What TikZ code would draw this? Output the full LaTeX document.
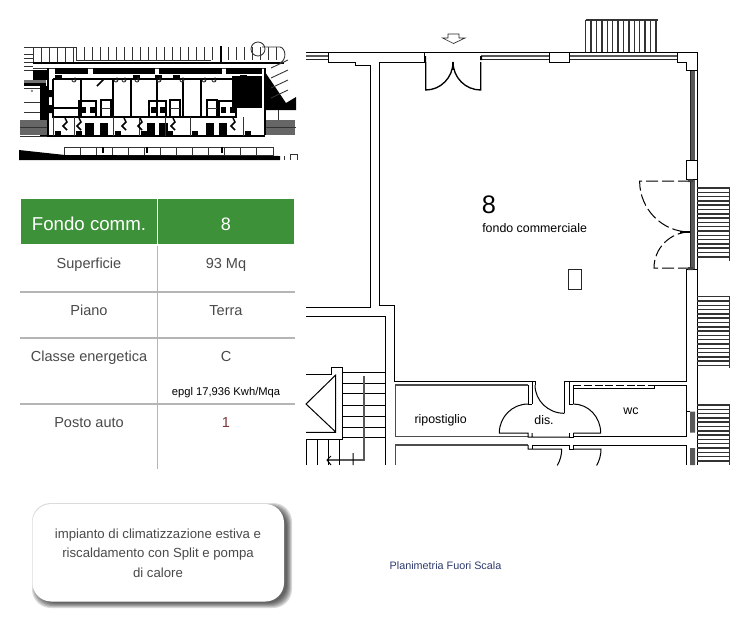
\documentclass[tikz,border=0pt]{standalone}
\usepackage{fontspec}
\setmainfont{Liberation Sans}
\usepackage{tikz}
\usetikzlibrary{positioning}
\definecolor{headgreen}{HTML}{3D9239}
\definecolor{rulegrey}{HTML}{B5B5B5}
\definecolor{textgrey}{HTML}{4A4A4A}
\definecolor{autored}{HTML}{7A3A3A}
\definecolor{navytext}{HTML}{2D3A6D}
\tikzset{
    wall/.style={line width=0.75pt, black},
    thin wall/.style={line width=0.5pt, black!85},
    glass/.style={line width=1.6pt, black!65},
    tread/.style={line width=1.1pt, black!80},
    headcell/.style={text=white, anchor=base, font=\fontsize{14}{17}\selectfont},
    cell/.style={text=textgrey, anchor=base, font=\fontsize{10.9}{13}\selectfont},
    roomlabel/.style={anchor=base, inner sep=0pt, font=\fontsize{9.3}{11}\selectfont},
    keywall/.style={line width=1.1pt, black},
    keyline/.style={line width=0.65pt, black!80},
}
\begin{document}
\begin{tikzpicture}[x=0.75pt, y=-0.75pt]
    \useasboundingbox (0,0) rectangle (737,619);
    \fill[white] (0,0) rectangle (737,619);

    % Key plan
    \foreach \x in {33,41,...,73} \draw[keyline] (\x,47) -- (\x,63);
    \foreach \x in {84,92,...,276} \draw[keyline] (\x,47) -- (\x,60);
    \draw[keyline] (24,47) -- (76,47) -- (76,60) -- (211,60);
    \draw[keywall] (33,63) -- (284,63);
    \draw[keyline] (33,68) -- (265,68);
    \draw[keyline] (262,47) -- (280,47) .. controls (286,48) and (287,60) .. (280,63);
    \draw[keyline] (258,49) circle (7);
    \fill (220,46) rectangle (222,62);
    \foreach \y in {54,58,...,70} \draw[keyline] (24,\y) -- (33,\y);
    \foreach \x/\w in {55/33,93/62,159/63,226/36} \fill (\x,68) rectangle ++(\w,6);
    \fill (33,70) rectangle (48,80);
    \draw[keywall] (48,68) -- (48,135) (53,79) -- (232,79) (265,68) -- (265,135);
    \draw[keywall] (53,79) -- (53,117) -- (232,117);
    \fill (232,76) rectangle (262,108);
    \fill (265,72) -- (286,103) -- (296,97) -- (296,110) -- (265,110) -- cycle;
    \foreach \y in {60,70,80,90} \draw[keyline] (271,\y+8) -- (288,\y);
    \foreach \x in {81,113,131,157,183,201} \draw[keywall] (\x,79) -- (\x,117);
    \foreach \x in {55,133,155,173,240} \fill (\x,75) rectangle ++(7,4);
    \foreach \x in {79,149,219} {
        \draw[keywall] (\x,101) rectangle ++(17,16);
        \fill (\x+2,107) rectangle ++(5,6);
        \fill (\x+11,107) rectangle ++(5,6);
    }
    \foreach \x in {101,170,207} {
        \draw[keywall] (\x,100) rectangle ++(10,17);
        \draw[keyline] (\x,108) -- (\x+10,108);
    }
    \foreach \x in {75,117,125,138,160,183,205,215} {
        \draw[keyline] (\x,77) -- (\x,82) (\x-3,80) arc (180:0:2);
    }
    \draw[keywall] (97,79) -- (104,79) -- (97,86);
    \draw[keywall] (53,108) -- (80,108);
    \draw[keywall] (40,136) -- (265,136);
    \foreach \x/\w in {85/9,100/8,147/8,159/9,206/8,219/8} \fill (\x,123) rectangle ++(\w,13);
    \foreach \x in {53,74,113,139,165,190,243} {
        \draw[keyline] (\x,117) -- (\x,136);
        \fill (\x+2,131) rectangle ++(6,5);
    }
    \foreach \x in {65,79,124,140,173,233} \draw[keywall] (\x,118) -- (\x+2,122) -- (\x-2,126) -- (\x+2,130);
    \fill (49,90) rectangle (53,97) (49,105) rectangle (53,113);
    \fill (24,83) rectangle (46,86);
    \fill[black!55] (24,80) rectangle (46,83);
    \draw[keyline] (24,88) -- (40,88) -- (40,118) (24,102) -- (40,102) (24,112) -- (40,112);
    \fill (40,86) rectangle (48,120);
    \node[inner sep=0pt, font=\fontsize{3}{3}\selectfont] (keydot) at (32,91) {o};
    \fill[black!60] (20,120) rectangle (47,135);
    \fill[black!60] (266,120) rectangle (295,135);
    \draw[keyline] (266,127) -- (296,127) (278,110) -- (278,120) (20,127) -- (47,127);
    \draw[keyline] (20,136) -- (47,136);
    \draw[keyline] (64,147) rectangle (273,155);
    \foreach \x in {80,96,...,256} \draw[keyline] (\x,147) -- (\x,155);
    \foreach \x in {102,146,221} \fill (\x,147) rectangle ++(2,6);
    \fill (19,150) -- (65,155) -- (280,156) -- (280,160) -- (118,160) -- (19,160) -- cycle;
    \draw[keyline] (284,156) -- (284,160) (290,160) -- (290,154) -- (297,154) -- (297,160);

    % Table
    \fill[headgreen] (21,199) rectangle (294,244);
    \draw[white, line width=1pt] (157.5,199) -- (157.5,244);
    \foreach \y in {292,338,404} \draw[rulegrey, line width=1pt] (20,\y) -- (295,\y);
    \draw[rulegrey, line width=1pt] (157.5,246) -- (157.5,469);
    \node[headcell] (fondo) at (89,230) {Fondo comm.};
    \node[headcell, font=\fontsize{13.5}{16}\selectfont] (numero) at (226,230) {8};
    \node[cell] (sup) at (89,268) {Superficie};
    \node[cell] (supval) at (226,268) {93 Mq};
    \node[cell] (piano) at (89,315) {Piano};
    \node[cell] (pianoval) at (226,315) {Terra};
    \node[cell] (classe) at (89,361) {Classe energetica};
    \node[cell] (classeval) at (226,361) {C};
    \node[anchor=base, font=\fontsize{8.4}{10}\selectfont] (epgl) at (226,395) {epgl 17,936 Kwh/Mqa};
    \node[cell] (posto) at (89,427) {Posto auto};
    \node[cell, text=autored] (postoval) at (226,427) {1};

    % Note with shadow
    \foreach \o in {5,4,...,0}
        \fill[black, opacity=0.14, rounded corners=14pt] (37-\o,508-\o) rectangle (287+\o,603+\o);
    \fill[white, rounded corners=14pt] (32.5,504) rectangle (284,601.5);
    \node[text=textgrey, align=center, font=\fontsize{9.9}{14.6}\selectfont] (nota) at (158,553.2)
        {impianto di climatizzazione estiva e\\riscaldamento con Split e pompa\\di calore};
    \node[text=navytext, anchor=base, font=\fontsize{8.1}{10}\selectfont] (scala) at (445.5,569) {Planimetria Fuori Scala};

    % Floor plan: top wall
    \draw[wall] (306,52.3) -- (697,52.3) -- (697,465);
    \draw[glass] (306,56) -- (328,56) (481,56) -- (549,56) (569,56) -- (677,56);
    \draw[thin wall] (306,59.5) -- (328,59.5) (481,59.5) -- (549,59.5) (569,59.5) -- (677,59.5);
    \draw[wall] (328.7,52.3) -- (328.7,62.3) -- (355,62.3) -- (355,65) -- (370,65) -- (370,307) -- (306,307);
    \draw[wall] (379.3,62.3) -- (424,62.3) -- (424,52.3);
    \draw[wall] (379.3,62.3) -- (379.3,305.3) -- (394,305.3) -- (394,381.3) -- (535,381.3);
    \draw[wall] (306,316) -- (385.7,316) -- (385.7,465);
    \draw[wall] (549.3,52.3) rectangle (569.3,62.3);
    \draw[wall] (677,52.3) -- (677,62) -- (686.7,62) -- (686.7,70.7) -- (697,70.7);
    % Entrance door
    \draw[wall, line width=1pt] (425.7,62) -- (425.7,90) arc (90:0:27.3 and 28);
    \draw[wall, line width=1pt] (480.7,62) -- (480.7,90) arc (90:180:27.7 and 28);
    \draw[wall, line width=1pt] (453,62) -- (453,70);
    \fill (424,56) rectangle (426,62) (480,56) rectangle (482,60);
    \draw[thin wall] (448,34) -- (459,34) -- (459,38) -- (465,38) -- (453.5,43.5) -- (442.5,38) -- (448,38) -- cycle;
    % Top stairs
    \foreach \x in {585.7,591.1,...,659} \draw[tread] (\x,20) -- (\x,52);
    \draw[tread] (585.7,20) -- (658.3,20);
    % Right windows and stairs
    \fill[black!65] (690,70.7) rectangle (694.5,160);
    \fill[black!65] (690,179.3) rectangle (694.5,269);
    \draw[thin wall] (690,70.7) -- (690,160) (690,179.3) -- (690,269);
    \draw[wall] (686.7,160) rectangle (697,179.3);
    \draw[wall] (686.7,269) -- (686.7,381.7) -- (564.3,381.7) -- (564.3,413.3);
    \draw[wall] (686,269) -- (697,269);
    \foreach \y in {188,192.3,...,261} \draw[tread] (697,\y) -- (729.7,\y);
    \draw[tread] (729.7,188) -- (729.7,260.7);
    \foreach \y in {296.7,301,...,368} \draw[tread] (697,\y) -- (729.7,\y);
    \draw[tread] (729.7,296.7) -- (729.7,368);
    \foreach \y in {405,409.3,...,465} \draw[tread] (697,\y) -- (729.7,\y);
    \draw[tread] (729.7,405) -- (729.7,465);
    % Dashed doors
    \draw[wall, dash pattern=on 9pt off 3pt] (690,181) -- (639.6,181) arc (180:90:50.4 and 51);
    \draw[wall, dash pattern=on 9pt off 3pt] (690,268) -- (654,268) arc (180:270:36);
    \draw[wall, line width=1pt] (680,232) -- (690,232);
    \fill[black!75] (688,179.3) rectangle (693,182) (688,267) rectangle (693,270);
    % Column
    \draw[thin wall] (568.5,269) rectangle (581,289);
    % Left stairs
    \draw[wall] (306,374.5) -- (331.7,374.5) -- (331.7,367.7) -- (342.7,367.7) -- (342.7,439) -- (306,439);
    \draw[wall] (335.7,375) -- (306,404) -- (335.7,432) -- cycle (306,432.3) -- (335.7,432.3);
    \foreach \y in {372.3,383,393.7,405,416,427,437} \draw[wall] (342.7,\y) -- (385.7,\y);
    \draw[wall, black!65, line width=1pt] (364,376) -- (364,460) -- (327,460);
    \draw[wall] (331,456) -- (327,460) -- (331,465) (353,453) -- (353,465);
    \foreach \x in {306.7,317.3,328,339} \draw[wall] (\x,439) -- (\x,465);
    % Service rooms
    \draw[wall, black!70, line width=1pt] (395.7,465) -- (395.7,445) -- (528,445);
    \draw[wall, black!70, line width=1pt] (528,385) -- (395.7,385) -- (395.7,436.7) -- (528,436.7);
    \draw[wall] (528,385) -- (528,404) (532,381.3) -- (532,404) (535,381.3) -- (535,385) (528,404) -- (532,404);
    \draw[wall] (528,404) arc (270:180:28.7 and 29) -- (528,433) -- (528,437) -- (532,437) -- (532,433) (532,437) -- (569,437);
    \draw[wall] (535,385) arc (180:90:29.3 and 28.3);
    \draw[wall] (569,381.7) -- (569,404) -- (573.3,404) (573.3,385) -- (573.3,404);
    \draw[wall] (573.3,404) arc (270:360:27.4 and 29) -- (573.3,433);
    \draw[wall] (569,433) -- (569,437) -- (573.3,437) -- (573.3,433);
    \draw[wall] (573.3,436) -- (686,436) -- (686,385) -- (654,385);
    \draw[wall, dash pattern=on 6pt off 2pt] (573.3,385) -- (654,385);
    \draw[wall] (573.3,404) -- (573.3,388) -- (654,388) -- (654,385);
    \draw[wall] (528,445) -- (528,449) -- (532,449) -- (561.7,449) arc (0:30:33);
    \draw[wall] (532,449) -- (532,445) -- (569,445);
    \draw[wall] (569,445) -- (569,449) -- (573,449) -- (573,445) -- (686,445);
    \draw[wall] (573,449) -- (601,449) arc (0:30:33);
    \draw[wall] (686.7,436) -- (686.7,411.7) -- (690,411.7) (686.7,445) -- (686.7,465);
    \fill[black!65] (690,411.7) rectangle (695,432.7) (690,448) rectangle (695,465);
    % Room labels
    \node[anchor=base, inner sep=0pt, font=\fontsize{19}{21}\selectfont] (unita) at (489,213) {8};
    \node[roomlabel, anchor=base west] (fondocomm) at (482,232) {fondo commerciale};
    \node[roomlabel] (rip) at (440.7,423) {ripostiglio};
    \node[roomlabel] (dis) at (544,424) {dis.};
    \node[roomlabel] (wc) at (631,414) {wc};
\end{tikzpicture}
\end{document}
